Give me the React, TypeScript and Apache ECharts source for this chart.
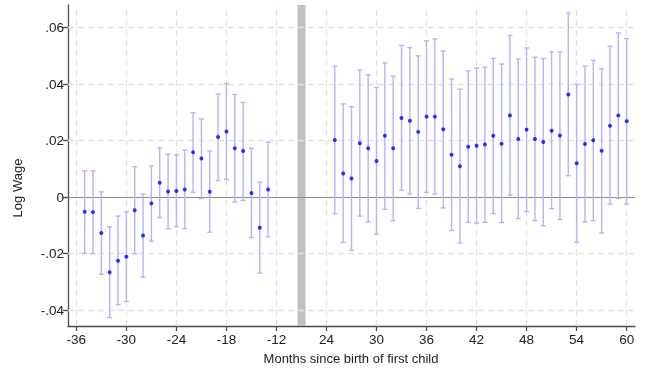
import React, { useEffect, useRef } from "react";
import * as echarts from "echarts";

// Months since birth of first child (pre-period and post-period, separated by a break)
const monthsPre = [-35, -34, -33, -32, -31, -30, -29, -28, -27, -26, -25, -24, -23, -22, -21, -20, -19, -18, -17, -16, -15, -14, -13];
const estPre = [-0.0052, -0.0053, -0.0127, -0.0266, -0.0225, -0.0211, -0.0046, -0.0136, -0.0022, 0.0051, 0.002, 0.0022, 0.0027, 0.0159, 0.0137, 0.0019, 0.0213, 0.0232, 0.0173, 0.0163, 0.0015, -0.0108, 0.0027];
const hiPre = [0.0093, 0.0093, 0.0019, -0.0105, -0.0067, -0.0052, 0.0108, 0.0011, 0.011, 0.0175, 0.0152, 0.015, 0.0166, 0.0299, 0.0277, 0.0163, 0.0365, 0.0402, 0.0363, 0.0335, 0.0173, 0.0053, 0.0194];
const loPre = [-0.0199, -0.02, -0.0273, -0.0426, -0.0381, -0.0369, -0.02, -0.0283, -0.0156, -0.0072, -0.0112, -0.0104, -0.0111, 0.0017, -0.0005, -0.0124, 0.0059, 0.0063, -0.0017, -0.0012, -0.0143, -0.0269, -0.014];

const monthsPost = [25, 26, 27, 28, 29, 30, 31, 32, 33, 34, 35, 36, 37, 38, 39, 40, 41, 42, 43, 44, 45, 46, 47, 48, 49, 50, 51, 52, 53, 54, 55, 56, 57, 58, 59, 60];
const estPost = [0.0202, 0.0084, 0.0066, 0.0191, 0.0173, 0.0128, 0.0217, 0.0173, 0.028, 0.027, 0.0231, 0.0285, 0.0285, 0.024, 0.015, 0.0109, 0.0178, 0.0182, 0.0186, 0.0217, 0.0189, 0.0289, 0.0206, 0.0239, 0.0206, 0.0195, 0.0235, 0.0218, 0.0363, 0.012, 0.0188, 0.0201, 0.0164, 0.0253, 0.0289, 0.0269];
const hiPost = [0.0463, 0.033, 0.032, 0.045, 0.0433, 0.0388, 0.0475, 0.0428, 0.0537, 0.0529, 0.05, 0.0553, 0.056, 0.0517, 0.0418, 0.0382, 0.0447, 0.0457, 0.046, 0.0491, 0.0471, 0.0572, 0.0489, 0.0528, 0.0495, 0.0491, 0.0514, 0.0514, 0.0651, 0.0399, 0.0464, 0.0484, 0.0454, 0.0534, 0.0581, 0.0561];
const loPost = [-0.0058, -0.016, -0.0188, -0.0067, -0.0088, -0.0131, -0.0043, -0.0083, 0.0024, 0.0011, -0.004, 0.0017, 0.0011, -0.0038, -0.0118, -0.0162, -0.0089, -0.0092, -0.0089, -0.0058, -0.009, 0.0007, -0.0076, -0.0051, -0.0083, -0.0101, -0.0041, -0.0079, 0.0076, -0.0159, -0.0088, -0.0083, -0.0127, -0.0025, -0.0004, -0.0024];

const xTickMonths = [-36, -30, -24, -18, -12, 24, 30, 36, 42, 48, 54, 60];
const yTicks = [-0.04, -0.02, 0, 0.02, 0.04, 0.06];
const breakMonth = -9; // position of the gap marker on the compressed axis

// compressed axis: post-period months are shifted left by 30
const POST_SHIFT = 30;
const toPos = (m: number) => (m <= -10 ? m : m - POST_SHIFT);
const fromPos = (p: number) => (p <= -10 ? p : p + POST_SHIFT);

const fmtY = (v: number) => {
  if (Math.abs(v) < 1e-9) return "0";
  const s = v.toFixed(2);
  return s.replace(/^(-?)0\./, "$1.");
};

export default function App() {
  const ref = useRef<HTMLDivElement>(null);
  useEffect(() => {
    if (!ref.current) return;
    const chart = echarts.init(ref.current, undefined, { renderer: "svg" });

    const months = [...monthsPre, ...monthsPost];
    const est = [...estPre, ...estPost];
    const lo = [...loPre, ...loPost];
    const hi = [...hiPre, ...hiPost];

    const pointData = months.map((m, i) => [toPos(m), est[i]]);
    const barData = months.map((m, i) => [toPos(m), lo[i], hi[i]]);
    const xTickPos = xTickMonths.map(toPos);

    const font = "Liberation Sans, Arial, Helvetica, sans-serif";
    const axisColor = "#4a4a4a";
    const gridStyle = { color: "#e3e3e3", width: 1.3, type: [6, 4] };

    chart.setOption({
      animation: false,
      grid: { left: 68, right: 12, top: 5, bottom: 46 },
      xAxis: {
        type: "value",
        min: -37,
        max: 31,
        axisLine: { show: true, onZero: false, lineStyle: { color: axisColor, width: 1.3 } },
        axisTick: { show: true, customValues: xTickPos, length: 5, lineStyle: { color: axisColor, width: 1.3 } },
        axisLabel: {
          customValues: xTickPos,
          formatter: (v: number) => String(fromPos(Math.round(v))),
          color: "#222",
          fontSize: 13.5,
          fontFamily: font,
          margin: 6,
        },
        splitLine: { show: false },
      },
      yAxis: {
        type: "value",
        min: -0.0456,
        max: 0.068,
        axisLine: { show: true, onZero: false, lineStyle: { color: axisColor, width: 1.3 } },
        axisTick: { show: true, customValues: yTicks, length: 5, lineStyle: { color: axisColor, width: 1.3 } },
        axisLabel: {
          customValues: yTicks,
          formatter: (v: number) => fmtY(v),
          color: "#222",
          fontSize: 13.5,
          fontFamily: font,
          margin: 4,
        },
        splitLine: { show: false },
      },
      graphic: [
        {
          type: "text",
          x: 17,
          y: 188,
          rotation: Math.PI / 2,
          style: {
            text: "Log Wage",
            fill: "#222",
            font: `13px ${font}`,
            align: "center",
            verticalAlign: "middle",
          },
        },
        {
          type: "text",
          x: 351,
          y: 358,
          style: {
            text: "Months since birth of first child",
            fill: "#222",
            font: `13px ${font}`,
            align: "center",
            verticalAlign: "middle",
          },
        },
      ],
      series: [
        {
          type: "scatter",
          data: [],
          silent: true,
          z: 1,
          markArea: {
            silent: true,
            z: 1,
            itemStyle: { color: "#c0c0c0" },
            data: [[{ xAxis: breakMonth - 0.48 }, { xAxis: breakMonth + 0.48 }]],
          },
          markLine: {
            silent: true,
            z: 1,
            symbol: "none",
            label: { show: false },
            data: [
              ...xTickPos.map((p) => ({ xAxis: p, lineStyle: gridStyle })),
              ...yTicks.filter((t) => t !== 0).map((t) => ({ yAxis: t, lineStyle: gridStyle })),
              { yAxis: 0, lineStyle: { color: "#8c8c8c", width: 1.1, type: "solid" } },
            ],
          },
        },
        {
          type: "custom",
          data: barData,
          z: 9,
          silent: true,
          renderItem: (params: any, api: any) => {
            const x = api.value(0);
            const top = api.coord([x, api.value(2)]);
            const bot = api.coord([x, api.value(1)]);
            const hw = 2.5;
            const style = { stroke: "#b4b4ff", lineWidth: 1.4, fill: "none" };
            return {
              type: "group",
              children: [
                { type: "line", shape: { x1: top[0], y1: top[1], x2: bot[0], y2: bot[1] }, style },
                { type: "line", shape: { x1: top[0] - hw, y1: top[1], x2: top[0] + hw, y2: top[1] }, style },
                { type: "line", shape: { x1: bot[0] - hw, y1: bot[1], x2: bot[0] + hw, y2: bot[1] }, style },
              ],
            };
          },
        },
        {
          type: "scatter",
          data: pointData,
          z: 10,
          symbol: "circle",
          symbolSize: 4,
          itemStyle: { color: "#0000ff" },
          silent: true,
        },
      ],
    });

    return () => chart.dispose();
  }, []);

  return <div ref={ref} style={{ position: "fixed", left: 0, top: 0, width: 647, height: 372 }} />;
}
